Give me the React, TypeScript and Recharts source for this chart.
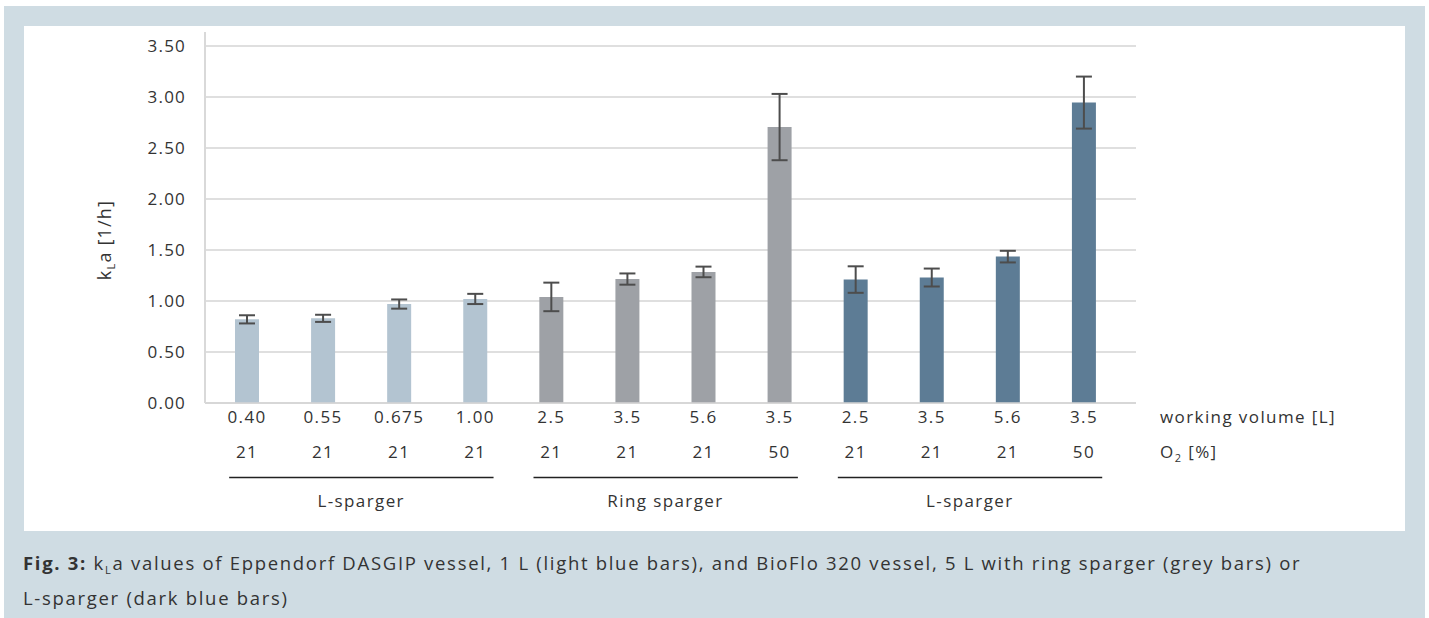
import React from 'react';
import { BarChart, Bar, XAxis, YAxis, CartesianGrid, ErrorBar, Cell } from 'recharts';

// Per-bar table rows shown under the axis
const workingVolume = ['0.40', '0.55', '0.675', '1.00', '2.5', '3.5', '5.6', '3.5', '2.5', '3.5', '5.6', '3.5'];
const oxygen = ['21', '21', '21', '21', '21', '21', '21', '50', '21', '21', '21', '50'];
const vessel = ['dasgip', 'dasgip', 'dasgip', 'dasgip', 'ring', 'ring', 'ring', 'ring', 'lsparger', 'lsparger', 'lsparger', 'lsparger'];

// kLa means and standard deviations [1/h]
const kla = [0.82, 0.83, 0.97, 1.02, 1.04, 1.215, 1.285, 2.705, 1.21, 1.23, 1.435, 2.945];
const klaError = [0.04, 0.035, 0.045, 0.05, 0.14, 0.055, 0.052, 0.325, 0.13, 0.088, 0.057, 0.255];

const yTicks = [0, 0.5, 1, 1.5, 2, 2.5, 3, 3.5];

const groupLabels = ['L-sparger', 'Ring sparger', 'L-sparger'];
const groupFirst = [0, 4, 8];
const groupLast = [3, 7, 11];

const vesselColor: Record<string, string> = {
  dasgip: '#b3c4d1',
  ring: '#9ea1a6',
  lsparger: '#5d7c95',
};

const data = kla.map((v, i) => ({
  key: String(i),
  kla: v,
  err: klaError[i],
  vessel: vessel[i],
}));

const FONT = '"Open Sans", "DejaVu Sans", sans-serif';
const TEXT = '#333333';

const CategoryTick = (props: any) => {
  const { x, y, payload } = props;
  const i: number = payload.index ?? props.index;
  const half: number = payload.offset || 38;
  const g = groupFirst.indexOf(i);
  const common = {
    fontFamily: FONT,
    fontSize: 17,
    fill: TEXT,
    letterSpacing: 1.4,
    dominantBaseline: 'central' as const,
  };
  return (
    <g>
      <text x={x} y={y + 13} textAnchor="middle" {...common}>
        {workingVolume[i]}
      </text>
      <text x={x} y={y + 48} textAnchor="middle" {...common}>
        {oxygen[i]}
      </text>
      {g >= 0 && (
        <g>
          <line
            x1={x - half * 0.47}
            x2={x + half * 6.48}
            y1={y + 74.5}
            y2={y + 74.5}
            stroke="#222"
            strokeWidth={1.3}
          />
          <text x={x + half * 3} y={y + 97} textAnchor="middle" {...common}>
            {groupLabels[g]}
          </text>
        </g>
      )}
      {i === groupLast[groupLast.length - 1] && (
        <g>
          <text x={x + half * 2} y={y + 13} textAnchor="start" {...common}>
            working volume [L]
          </text>
          <text x={x + half * 2} y={y + 48} textAnchor="start" {...common}>
            O
            <tspan fontSize={11} dy={6}>2</tspan>
            <tspan dy={-6}> [%]</tspan>
          </text>
        </g>
      )}
    </g>
  );
};

const YLabel = () => (
  <text
    x={104}
    y={240}
    transform="rotate(-90 104 240)"
    textAnchor="middle"
    dominantBaseline="central"
    fontFamily={FONT}
    fontSize={18}
    fill={TEXT}
    letterSpacing={1.2}
  >
    k
    <tspan fontSize={11} dy={6}>L</tspan>
    <tspan dy={-6}>a [1/h]</tspan>
  </text>
);

export default function App() {
  return (
    <div
      style={{
        position: 'absolute',
        left: 0,
        top: 0,
        width: 1429,
        height: 618,
        background: '#ffffff',
        overflow: 'hidden',
      }}
    >
      <div
        style={{
          position: 'absolute',
          left: 4,
          top: 6,
          width: 1421,
          height: 612,
          background: '#cfdce3',
        }}
      />
      <div
        style={{
          position: 'absolute',
          left: 24,
          top: 26,
          width: 1381,
          height: 505,
          background: '#ffffff',
        }}
      />
      <div style={{ position: 'absolute', left: 0, top: 0 }}>
        <BarChart
          width={1429}
          height={618}
          data={data}
          margin={{ top: 32, right: 293, bottom: 0, left: 0 }}
          barSize={24}
        >
          <CartesianGrid
            vertical={false}
            horizontalValues={yTicks}
            stroke="#d4d4d4"
            strokeWidth={1.5}
          />
          <XAxis
            dataKey="key"
            type="category"
            interval={0}
            padding={{ left: 4, right: 14 }}
            axisLine={{ stroke: '#d4d4d4', strokeWidth: 1.5 }}
            tickLine={false}
            tickSize={0}
            tickMargin={0}
            height={215}
            tick={<CategoryTick />}
          />
          <YAxis
            type="number"
            domain={[0, 3.637]}
            ticks={yTicks}
            interval={0}
            width={205}
            axisLine={{ stroke: '#d9d9d9', strokeWidth: 2 }}
            tickLine={false}
            tickSize={0}
            tickMargin={19}
            tickFormatter={(v: number) => v.toFixed(2)}
            tick={{ fontFamily: FONT, fontSize: 17, fill: TEXT, letterSpacing: 1.2 }}
            label={{ content: () => <YLabel /> }}
          />
          <Bar dataKey="kla" isAnimationActive={false}>
            {data.map((d) => (
              <Cell key={d.key} fill={vesselColor[d.vessel]} />
            ))}
            <ErrorBar
              dataKey="err"
              width={8}
              stroke="#4d4d4d"
              strokeWidth={2}
              direction="y"
              isAnimationActive={false}
            />
          </Bar>
        </BarChart>
      </div>
      <div
        style={{
          position: 'absolute',
          left: 23,
          top: 545,
          width: 1390,
          fontFamily: FONT,
          fontSize: 18.5,
          letterSpacing: 1.7,
          lineHeight: '35px',
          color: TEXT,
          whiteSpace: 'nowrap',
        }}
      >
        <span style={{ fontWeight: 700 }}>Fig. 3:</span> k
        <sub style={{ fontSize: 11, verticalAlign: '-4px', lineHeight: 0 }}>L</sub>a values of Eppendorf DASGIP
        vessel, 1 L (light blue bars), and BioFlo 320 vessel, 5 L with ring sparger (grey bars) or
        <br />
        L-sparger (dark blue bars)
      </div>
    </div>
  );
}
